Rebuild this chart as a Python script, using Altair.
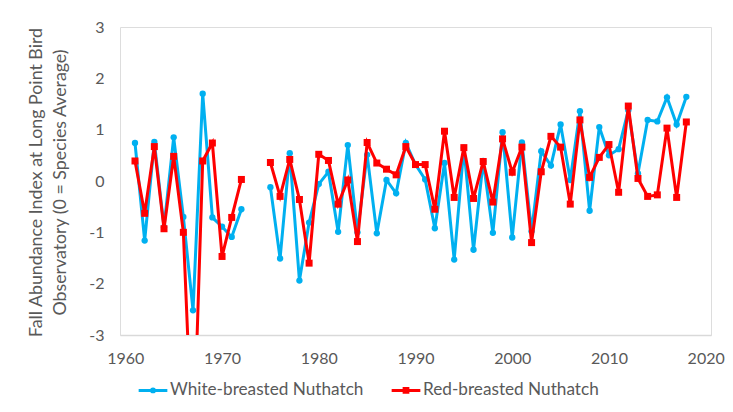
import altair as alt
import pandas as pd

years = list(range(1961, 2019))

white = [0.74, -1.16, 0.76, -0.90, 0.85, -0.70, -2.52, 1.70, -0.71, -0.89,
         -1.09, -0.55, None, None, -0.12, -1.51, 0.54, -1.94, -0.81, -0.06,
         0.18, -0.99, 0.70, -1.00, 0.51, -1.02, 0.02, -0.24, 0.74, 0.32,
         0.03, -0.92, 0.35, -1.53, 0.65, -1.34, 0.39, -1.01, 0.95, -1.10,
         0.75, -0.98, 0.58, 0.30, 1.10, 0.02, 1.36, -0.58, 1.05, 0.50,
         0.62, 1.38, 0.15, 1.19, 1.16, 1.63, 1.10, 1.64]

red = [0.39, -0.63, 0.67, -0.93, 0.48, -1.00, -5.5, 0.39, 0.74, -1.47,
       -0.71, 0.03, None, None, 0.36, -0.30, 0.42, -0.36, -1.60, 0.52,
       0.40, -0.45, 0.02, -1.18, 0.75, 0.35, 0.23, 0.12, 0.67, 0.32,
       0.32, -0.55, 0.97, -0.32, 0.65, -0.34, 0.38, -0.41, 0.82, 0.17,
       0.66, -1.20, 0.18, 0.87, 0.66, -0.45, 1.19, 0.07, 0.46, 0.71,
       -0.22, 1.46, 0.05, -0.30, -0.27, 1.03, -0.32, 1.15]

series_names = ["White-breasted Nuthatch", "Red-breasted Nuthatch"]
x_ticks = [1960, 1970, 1980, 1990, 2000, 2010, 2020]
y_ticks = [-3, -2, -1, 0, 1, 2, 3]

BLUE = "#00B0F0"
RED = "#FF0000"
GREY = "#595959"
FONT = "Lato"

rows = []
for name, vals in zip(series_names, [white, red]):
    seg = 0
    for yr, v in zip(years, vals):
        if v is None:
            seg += 1
            continue
        rows.append({"series": name, "year": yr, "value": v, "segment": f"{name}-{seg}"})
df = pd.DataFrame(rows)

x_enc = alt.X(
    "year:Q",
    scale=alt.Scale(domain=[1959.45, 2020.55], nice=False, zero=False),
    axis=alt.Axis(
        values=x_ticks, labelExpr="datum.value + ''", title=None, grid=False,
        ticks=False, tickSize=0, domainColor="#D9D9D9", domainWidth=1.3,
        labelFont=FONT, labelFontSize=16, labelColor=GREY, labelPadding=15,
        labelOverlap=False, labelFlush=False, labelBound=False,
    ),
)
y_enc = alt.Y(
    "value:Q",
    scale=alt.Scale(domain=[-3, 3], nice=False, zero=False),
    axis=alt.Axis(
        values=y_ticks, labelExpr="datum.value + ''", grid=False, domain=False,
        ticks=False, tickSize=0, labelFont=FONT, labelFontSize=16, labelColor=GREY,
        labelPadding=16, labelFlush=False,
        title=["Fall Abundance Index at Long Point Bird", "Observatory (0 = Species Average)"],
        titleFont=FONT, titleFontSize=17.8, titleFontWeight="normal", titleColor=GREY,
        titleAngle=-90, titleAlign="center", titleBaseline="top", titleLineHeight=24,
        titleX=-93, titleY=155, titleLimit=0,
    ),
)

base = alt.Chart(df)
wb = base.transform_filter(alt.datum.series == series_names[0])
rb = base.transform_filter(alt.datum.series == series_names[1])

blue_line = wb.mark_line(color=BLUE, strokeWidth=3, clip=True).encode(x=x_enc, y=y_enc, detail="segment:N")
blue_pts = wb.mark_point(filled=True, shape="circle", size=40, color=BLUE, opacity=1, clip=True).encode(x=x_enc, y=y_enc)
red_line = rb.mark_line(color=RED, strokeWidth=3, clip=True).encode(x=x_enc, y=y_enc, detail="segment:N")
red_pts = rb.mark_point(filled=True, shape="square", size=49, color=RED, opacity=1, clip=True).encode(x=x_enc, y=y_enc)

circle_path = "M-1,0L1,0M-0.1,0A0.1,0.1,0,1,0,0.1,0A0.1,0.1,0,1,0,-0.1,0Z"
square_path = "M-1,0L1,0M-0.13,-0.13L0.13,-0.13L0.13,0.13L-0.13,0.13Z"

leg = alt.Legend(
    title=None, orient="none", legendX=17, legendY=347, direction="horizontal",
    labelFont=FONT, labelFontSize=17.2, labelColor=GREY, labelOffset=1, labelLimit=0,
    symbolSize=824, symbolStrokeWidth=3, symbolOpacity=1, columnPadding=21,
    padding=0,
)
color_scale = alt.Scale(domain=series_names, range=[BLUE, RED])
legend_layer = base.mark_point(filled=True, opacity=0, strokeWidth=3).encode(
    x=x_enc, y=y_enc,
    fill=alt.Fill("series:N", scale=color_scale, legend=leg),
    stroke=alt.Stroke("series:N", scale=color_scale, legend=leg),
    shape=alt.Shape("series:N", scale=alt.Scale(domain=series_names, range=[circle_path, square_path]), legend=leg),
)

chart = alt.layer(legend_layer, blue_line, blue_pts, red_line, red_pts).properties(
    width=591, height=308,
    autosize=alt.AutoSizeParams(type="none"),
    padding={"left": 112, "top": 19, "right": 14, "bottom": 64},
).configure_view(stroke=None).configure(background="white")

chart.save("out.html", embed_options={"renderer": "svg", "actions": False})
